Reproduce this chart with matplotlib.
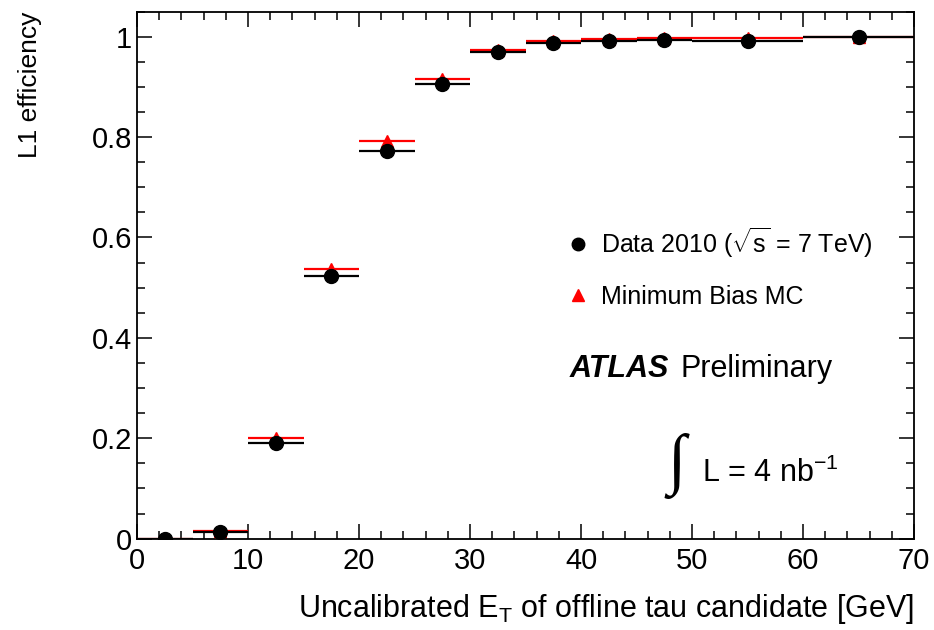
import matplotlib
matplotlib.use("Agg")
import matplotlib.pyplot as plt
from matplotlib.lines import Line2D
from matplotlib.ticker import MultipleLocator

plt.rcParams['font.family'] = ['Liberation Sans', 'DejaVu Sans']
plt.rcParams['mathtext.fontset'] = 'custom'
plt.rcParams['mathtext.rm'] = 'Liberation Sans'
plt.rcParams['mathtext.it'] = 'Liberation Sans:italic'

# bin edges in offline tau E_T [GeV]
bin_lo = [0, 5, 10, 15, 20, 25, 30, 35, 40, 45, 50, 60]
bin_hi = [5, 10, 15, 20, 25, 30, 35, 40, 45, 50, 60, 70]

# L1 efficiency per bin
eff_data = [0.0, 0.013, 0.191, 0.524, 0.772, 0.906, 0.969, 0.988, 0.991, 0.993, 0.991, 1.0]
eff_mc = [0.0, 0.015, 0.200, 0.538, 0.792, 0.915, 0.973, 0.991, 0.996, 0.998, 0.998, 1.0]

centers = [(a + b) / 2 for a, b in zip(bin_lo, bin_hi)]
half_w = [(b - a) / 2 for a, b in zip(bin_lo, bin_hi)]

fig = plt.figure(figsize=(9.34, 6.3), dpi=100)
ax = fig.add_axes([0.1467, 0.145, 0.832, 0.8367])

# MC first so the data sits on top
ax.errorbar(centers, eff_mc, xerr=half_w, fmt='^', color='#ff0000', ms=9,
            elinewidth=1.6, capsize=0, zorder=3)
ax.errorbar(centers, eff_data, xerr=half_w, fmt='o', color='black', ms=10,
            elinewidth=1.6, capsize=0, zorder=4)

ax.set_xlim(0, 70)
ax.set_ylim(0, 1.05)
ax.xaxis.set_major_locator(MultipleLocator(10))
ax.xaxis.set_minor_locator(MultipleLocator(2))
ax.yaxis.set_major_locator(MultipleLocator(0.2))
ax.yaxis.set_minor_locator(MultipleLocator(0.05))
ax.yaxis.set_major_formatter(plt.FuncFormatter(lambda v, p: '%g' % round(v, 2)))

ax.tick_params(which='both', direction='in', top=True, right=True, width=1.1,
               labelsize=21)
ax.tick_params(which='major', length=11)
ax.tick_params(which='minor', length=5.5)
ax.tick_params(axis='x', pad=6)
for s in ax.spines.values():
    s.set_linewidth(1.3)

ax.set_xlabel(r'Uncalibrated E$_{\mathrm{T}}$ of offline tau candidate [GeV]',
              loc='right', fontsize=22, labelpad=12)
ax.set_ylabel('L1 efficiency', loc='top', fontsize=19, labelpad=36)

handles = [Line2D([], [], ls='none', marker='o', color='black', ms=9),
           Line2D([], [], ls='none', marker='^', color='#ff0000', ms=8)]
labels = [r'Data 2010 ($\sqrt{\mathrm{s}}$ = 7 TeV)', 'Minimum Bias MC']
ax.legend(handles, labels, loc='upper left', bbox_to_anchor=(0.545, 0.613),
          frameon=False, fontsize=18, handlelength=0.6, handletextpad=0.6,
          labelspacing=1.0, borderaxespad=0)

ax.text(0.557, 0.307, 'ATLAS', transform=ax.transAxes, fontsize=22,
        fontweight='bold', fontstyle='italic', va='baseline')
ax.text(0.700, 0.307, 'Preliminary', transform=ax.transAxes, fontsize=22,
        va='baseline')
ax.text(0.683, 0.138, '\u222b', transform=ax.transAxes, fontsize=48,
        va='center', family='Liberation Serif')
ax.text(0.727, 0.107, r'L = 4 nb$^{\mathrm{-1}}$', transform=ax.transAxes,
        fontsize=22, va='baseline')

fig.savefig('out.png', dpi=100)
